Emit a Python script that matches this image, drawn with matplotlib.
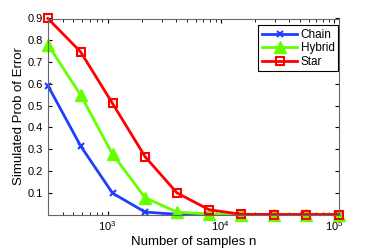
import matplotlib.pyplot as plt
import numpy as np

plt.rcParams["font.family"] = ["Liberation Sans", "DejaVu Sans"]

n_samples = [297, 578, 1107, 2150, 4110, 7900, 15100, 29500, 56200, 110700]
chain = [0.592, 0.315, 0.098, 0.011, 0.001, 0.0, 0.0, 0.0, 0.0, 0.0]
hybrid = [0.78, 0.549, 0.277, 0.077, 0.011, 0.002, 0.0, 0.0, 0.0, 0.0]
star = [0.9, 0.747, 0.51, 0.265, 0.099, 0.022, 0.001, 0.0, 0.0, 0.0]

fig = plt.figure(figsize=(3.74, 2.5), dpi=100)
ax = fig.add_axes([0.128, 0.142, 0.778, 0.784])

ax.plot(n_samples, chain, color="#1f3fff", lw=2, marker="x", ms=5, mew=1.5,
        label="Chain", clip_on=False)
ax.plot(n_samples, hybrid, color="#66ff00", lw=2, marker="^", ms=8,
        label="Hybrid", clip_on=False)
ax.plot(n_samples, star, color="#ff0000", lw=2, marker="s", ms=5.5, mfc="none",
        mew=1.5, label="Star", clip_on=False)

ax.set_xscale("log")
ax.set_xlim(n_samples[0], n_samples[-1])
ax.set_ylim(0, 0.9)
ax.set_yticks(np.arange(0.1, 0.91, 0.1))
ax.set_yticklabels([f"{v:.1f}" for v in np.arange(0.1, 0.91, 0.1)])
ax.tick_params(which="both", direction="in", top=True, right=True, labelsize=8)
ax.tick_params(which="major", length=3)
ax.tick_params(which="minor", length=2)
for s in ax.spines.values():
    s.set_color("#666666")

ax.set_xlabel("Number of samples n", fontsize=9.5, labelpad=2)
ax.set_ylabel("Simulated Prob of Error", fontsize=9.5, labelpad=2)

leg = ax.legend(loc="upper right", bbox_to_anchor=(0.998, 0.965), fontsize=8.5,
                fancybox=False, framealpha=1, edgecolor="black",
                handlelength=3.0, borderpad=0.3, labelspacing=0.12,
                handletextpad=0.3, borderaxespad=0)
leg.get_frame().set_linewidth(0.8)

fig.savefig("out.png", dpi=100)
